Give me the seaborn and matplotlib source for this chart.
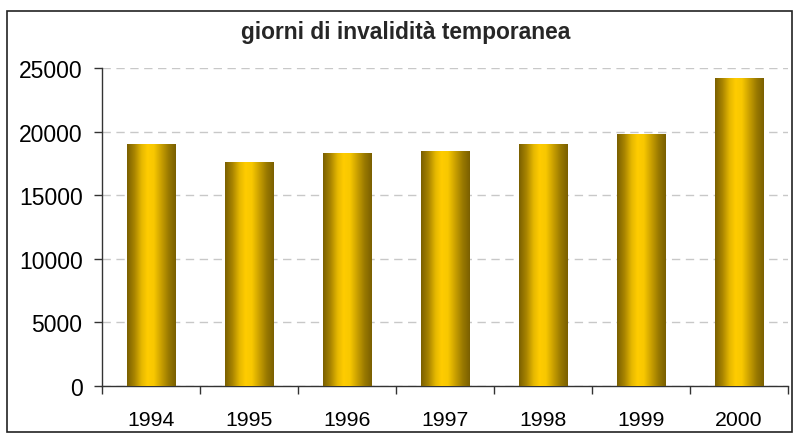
import numpy as np
import pandas as pd
import matplotlib
matplotlib.use("Agg")
import matplotlib.pyplot as plt
import seaborn as sns
from matplotlib.colors import LinearSegmentedColormap
from matplotlib.patches import Rectangle

# Data
years = ["1994", "1995", "1996", "1997", "1998", "1999", "2000"]
giorni = [19000, 17550, 18270, 18430, 19000, 19780, 24200]
title = "giorni di invalidità temporanea"

df = pd.DataFrame({"anno": years, "giorni": giorni})

sns.set_theme(style="white")
plt.rcParams["font.family"] = ["Liberation Sans", "DejaVu Sans"]

W, H = 795, 435
fig = plt.figure(figsize=(W / 100, H / 100), dpi=100)
ax = fig.add_axes([102 / W, 1 - 387 / H, (788 - 102) / W, (387 - 69) / H])

sns.barplot(data=df, x="anno", y="giorni", ax=ax, width=0.5, color="#FFCC00",
            saturation=1, zorder=3)

# Excel-like cylinder gradient on each bar
gold = LinearSegmentedColormap.from_list(
    "gold",
    [(0.0, "#7a5f00"), (0.15, "#a88400"), (0.3, "#e6b800"), (0.42, "#ffcc00"),
     (0.55, "#f8c800"), (0.7, "#caa000"), (0.85, "#9a7a00"), (1.0, "#7a5f00")])
grad = np.linspace(0, 1, 256).reshape(1, -1)
for p in ax.patches:
    x0, y0 = p.get_x(), p.get_y()
    w, h = p.get_width(), p.get_height()
    p.set_facecolor("none")
    p.set_edgecolor("none")
    ax.imshow(grad, cmap=gold, aspect="auto", extent=[x0, x0 + w, y0, y0 + h],
              zorder=3, interpolation="bilinear")

ax.set_xlim(-0.5, len(years) - 0.5)
ax.set_ylim(0, 25000)
ax.set_yticks(range(0, 25001, 5000))
ax.set_xticks(range(len(years)))
ax.set_xticklabels(years)
ax.set_xticks(np.arange(-0.5, len(years), 1), minor=True)

ax.yaxis.grid(True, color="#c8c8c8", linestyle=(0, (6, 4)), linewidth=1.0, zorder=0)
ax.xaxis.grid(False)
ax.set_axisbelow(True)

for s in ["top", "right"]:
    ax.spines[s].set_visible(False)
for s in ["left", "bottom"]:
    ax.spines[s].set_color("#333333")
    ax.spines[s].set_linewidth(1.0)

ax.tick_params(axis="y", which="major", left=True, length=6, width=1, color="#333333",
               pad=8, labelsize=16.5, labelcolor="black")
ax.tick_params(axis="x", which="major", bottom=False, length=0, pad=17,
               labelsize=15.3, labelcolor="black")
ax.tick_params(axis="x", which="minor", bottom=True, length=6, width=1, color="#333333")

ax.set_xlabel("")
ax.set_ylabel("")
fig.text(406 / W, 1 - 32 / H, title, ha="center", va="center",
         fontsize=16.4, fontweight="bold")

# Outer chart border
fig.patches.append(Rectangle((7 / W, 1 - 433 / H), (792 - 7) / W, (433 - 12) / H,
                             transform=fig.transFigure, fill=False,
                             edgecolor="#222222", linewidth=1.2))

fig.savefig("out.png", dpi=100)
